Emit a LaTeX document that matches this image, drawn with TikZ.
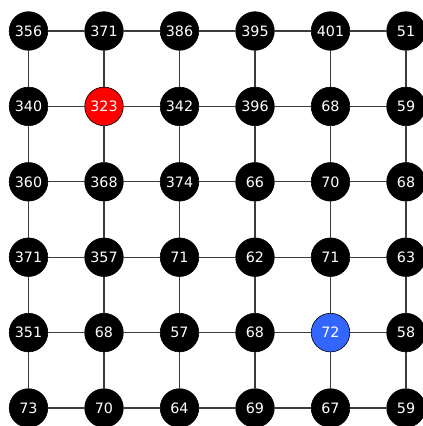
\documentclass[tikz,border=0pt]{standalone}
\usepackage{fontspec}
\setmainfont{DejaVu Sans}
\begin{document}
\begin{tikzpicture}[x=1pt,y=-1pt,
  cell/.style={circle,fill=black,draw=black,line width=0.6pt,minimum size=38.6pt,inner sep=0pt,text=white,font=\fontsize{14.3}{14.3}\selectfont},
  redcell/.style={cell,fill=red},
  bluecell/.style={cell,fill={rgb,255:red,51;green,102;blue,255}},
  link/.style={draw={rgb,255:red,60;green,60;blue,60},line width=1.1pt}]
\useasboundingbox (0,0) rectangle (423,426);
\clip (0,0) rectangle (423,426);
\def\vals{{{356,371,386,395,401,51},{340,323,342,396,68,59},{360,368,374,66,70,68},{371,357,71,62,71,63},{351,68,57,68,72,58},{73,70,64,69,67,59}}}
\foreach \r in {0,...,5}{
  \foreach \c in {0,...,5}{
    \pgfmathtruncatemacro{\v}{\vals[\r][\c]}
    \pgfmathsetmacro{\px}{28.5+75.5*\c}
    \pgfmathsetmacro{\py}{31+75.4*\r}
    \ifnum\r=1 \ifnum\c=1 \def\sty{redcell}\else\def\sty{cell}\fi
    \else\ifnum\r=4 \ifnum\c=4 \def\sty{bluecell}\else\def\sty{cell}\fi
    \else\def\sty{cell}\fi\fi
    \node[\sty] (n-\r-\c) at (\px,\py) {\v};
  }
}
\begin{scope}[on background layer/.try]
\end{scope}
\foreach \r in {0,...,5}{
  \foreach \c [evaluate=\c as \cn using int(\c+1)] in {0,...,4}{
    \draw[link] (n-\r-\c) -- (n-\r-\cn);
  }
}
\foreach \c in {0,...,5}{
  \foreach \r [evaluate=\r as \rn using int(\r+1)] in {0,...,4}{
    \draw[link] (n-\r-\c) -- (n-\rn-\c);
  }
}
\end{tikzpicture}
\end{document}
